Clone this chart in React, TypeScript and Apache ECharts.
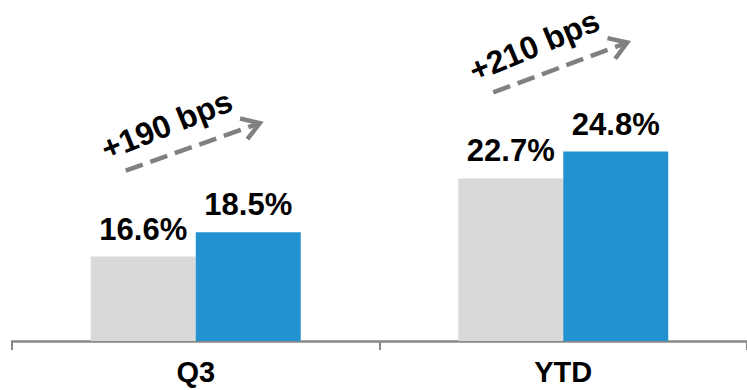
import React, { useEffect, useRef } from "react";
import * as echarts from "echarts";

const categories = ["Q3", "YTD"];
const priorValues = [16.6, 22.7];
const currentValues = [18.5, 24.8];
const changeLabels = ["+190 bps", "+210 bps"];

const FONT = "'Liberation Sans', Arial, sans-serif";
const GRAY = "#d9d9d9";
const BLUE = "#2292d0";
const ARROW = "#808080";

export default function App() {
  const ref = useRef<HTMLDivElement>(null);
  useEffect(() => {
    if (!ref.current) return;
    const chart = echarts.init(ref.current, undefined, { renderer: "svg" });
    const label = {
      show: true,
      position: "top",
      distance: 12,
      formatter: (p: any) => Number(p.value).toFixed(1) + "%",
      fontSize: 31,
      fontWeight: "bold",
      color: "#000",
      fontFamily: FONT,
    };
    chart.setOption({
      animation: false,
      grid: { left: 12, right: -7, top: 21, bottom: 49 },
      xAxis: {
        type: "category",
        data: categories,
        axisLine: { lineStyle: { color: "#888888", width: 2.5 } },
        axisTick: { show: true, length: 9, lineStyle: { color: "#888888", width: 2 } },
        axisLabel: { fontSize: 29, fontWeight: "bold", color: "#000", fontFamily: FONT, margin: 16 },
      },
      yAxis: { type: "value", min: 10, max: 35, show: false, splitLine: { show: false } },
      series: [
        { type: "bar", data: priorValues, barWidth: 105, barGap: "0%", itemStyle: { color: GRAY }, label },
        { type: "bar", data: currentValues, barWidth: 105, barGap: "0%", itemStyle: { color: BLUE }, label },
      ],
    });

    const graphics: any[] = [];
    categories.forEach((c, i) => {
      const g = chart.convertToPixel({ xAxisIndex: 0, yAxisIndex: 0 }, [i, priorValues[i]]) as number[];
      const b = chart.convertToPixel({ xAxisIndex: 0, yAxisIndex: 0 }, [i, currentValues[i]]) as number[];
      const x1 = g[0] - 70, y1 = g[1] - 86;
      const x2 = g[0] + 64, y2 = b[1] - 109;
      const L = Math.hypot(x2 - x1, y2 - y1);
      const ang = Math.atan2(-(y2 - y1), x2 - x1);
      graphics.push({
        type: "group",
        x: x1,
        y: y1,
        rotation: ang,
        children: [
          {
            type: "line",
            shape: { x1: 0, y1: 0, x2: L - 3, y2: 0 },
            style: { stroke: ARROW, lineWidth: 4.5, lineDash: [18, 8] },
          },
          {
            type: "polyline",
            shape: { points: [[L - 17, -11], [L, 0], [L - 17, 11]] },
            style: { stroke: ARROW, lineWidth: 4.5, fill: null },
          },
        ],
      });
      const mx = (x1 + x2) / 2 - 26, my = (y1 + y2) / 2 - 22;
      graphics.push({
        type: "text",
        x: mx,
        y: my,
        rotation: ang + 0.04,
        style: {
          text: changeLabels[i],
          fontSize: 32,
          fontWeight: "bold",
          fontFamily: FONT,
          fill: "#000",
          textAlign: "center",
          textVerticalAlign: "middle",
        },
      });
    });
    chart.setOption({ graphic: graphics });
    return () => chart.dispose();
  }, []);
  return <div ref={ref} style={{ width: 747, height: 390, position: "absolute", left: 0, top: 0 }} />;
}
